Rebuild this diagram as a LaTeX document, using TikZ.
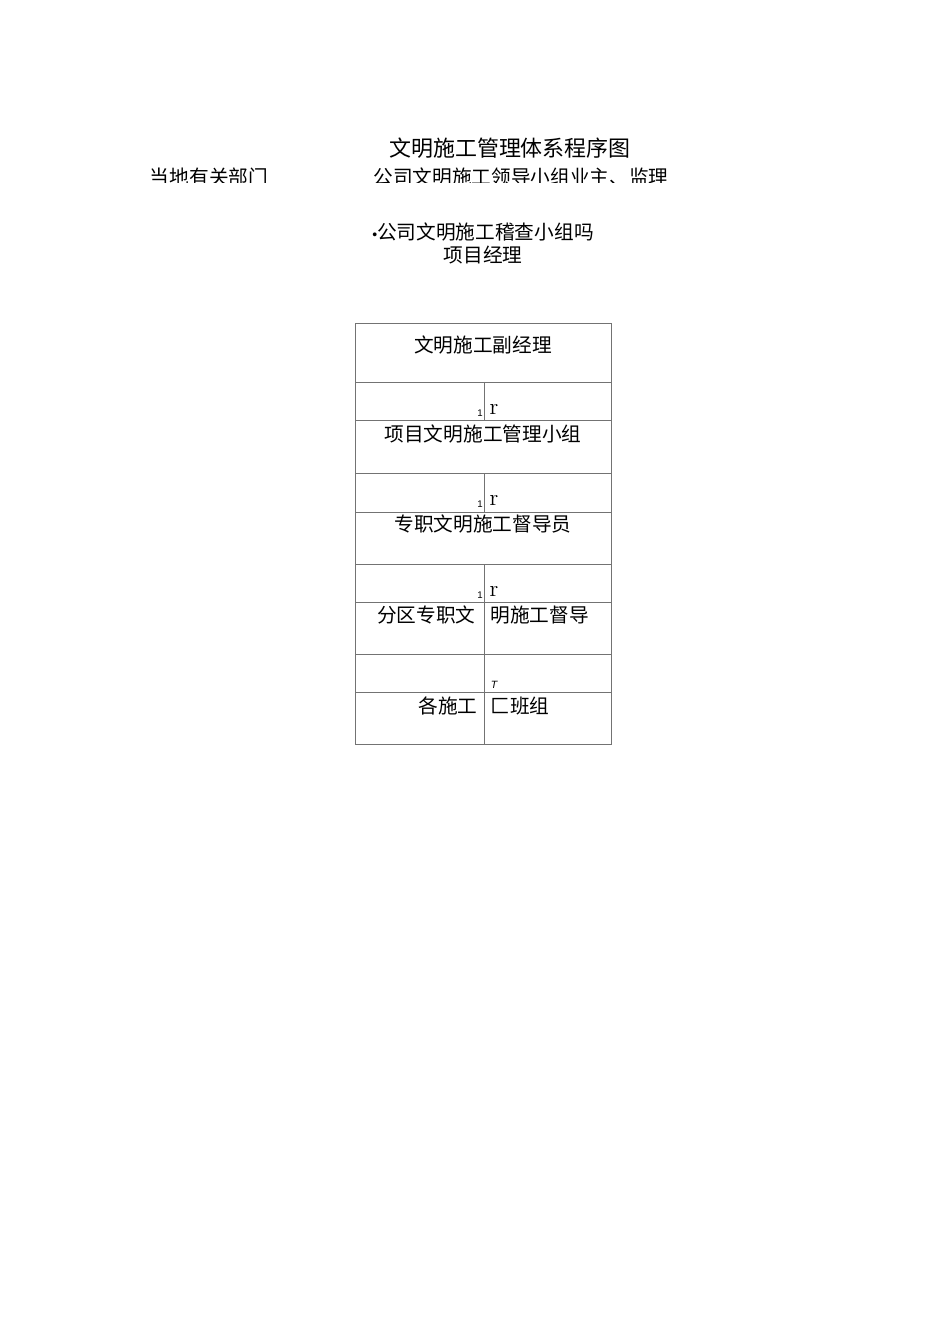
\documentclass[tikz,border=0pt]{standalone}
\usepackage{fontspec}
\newfontfamily\cjk{Noto Sans CJK SC}
\newfontfamily\lib{Liberation Sans}
\usetikzlibrary{positioning}
\tikzset{
	cell/.style={draw=black!55, line width=0.5pt},
	txt/.style={inner sep=0pt, font=\cjk\fontsize{11.2}{12}\selectfont},
	tiny/.style={inner sep=0pt, font=\lib\fontsize{5.5}{6}\selectfont}
}

\begin{document}
\begin{tikzpicture}[x=0.02cm, y=-0.02cm]
			%%%%% START %%%%%
			\useasboundingbox (0, 0) rectangle (950, 1344);
			
			\node[txt, font=\cjk\fontsize{12.5}{14}\selectfont] (title) at (510, 148) {文明施工管理体系程序图};
			
			\begin{scope}
				\clip (100, 150) rectangle (800, 183);
				\node[txt] (local) at (209, 177) {当地有关部门};
				\node[txt] (lead) at (521, 177) {公司文明施工领导小组业主、监理};
			\end{scope}
			
			\node[txt] (check) at (483, 232) {{\lib\fontsize{8}{9}\selectfont •}公司文明施工稽查小组吗};
			\node[txt] (pm) at (483, 255) {项目经理};
			
			% outer frame and rows
			\draw[cell] (355, 323) rectangle (611, 744);
			\foreach \y in {382, 420, 473, 512, 564, 602, 654, 692}
				\draw[cell] (355, \y) -- (611, \y);
			\draw[cell] (484, 382) -- (484, 420);
			\draw[cell] (484, 473) -- (484, 512);
			\draw[cell] (484, 564) -- (484, 744);
			
			\node[txt] (vice) at (483, 345) {文明施工副经理};
			\node[txt] (group) at (483, 434) {项目文明施工管理小组};
			\node[txt] (super) at (483, 524) {专职文明施工督导员};
			\node[txt, anchor=east] (zoneA) at (476, 615) {分区专职文};
			\node[txt, anchor=west] (zoneB) at (490, 615) {明施工督导};
			\node[txt, anchor=east] (teamA) at (478, 706) {各施工};
			\node[txt, anchor=west] (teamB) at (490, 706) {匚班组};
			
			% small marks
			\foreach \y in {413, 504, 595} {
				\node[tiny] at (480, \y) {1};
				\node[inner sep=0pt, font=\fontsize{13}{14}\selectfont] at (494, \y-4) {r};
			}
			\node[tiny, font=\lib\itshape\fontsize{6}{7}\selectfont] (tmark) at (494, 685) {T};
			
			%%%%% END %%%%%
		\end{tikzpicture}
\end{document}
